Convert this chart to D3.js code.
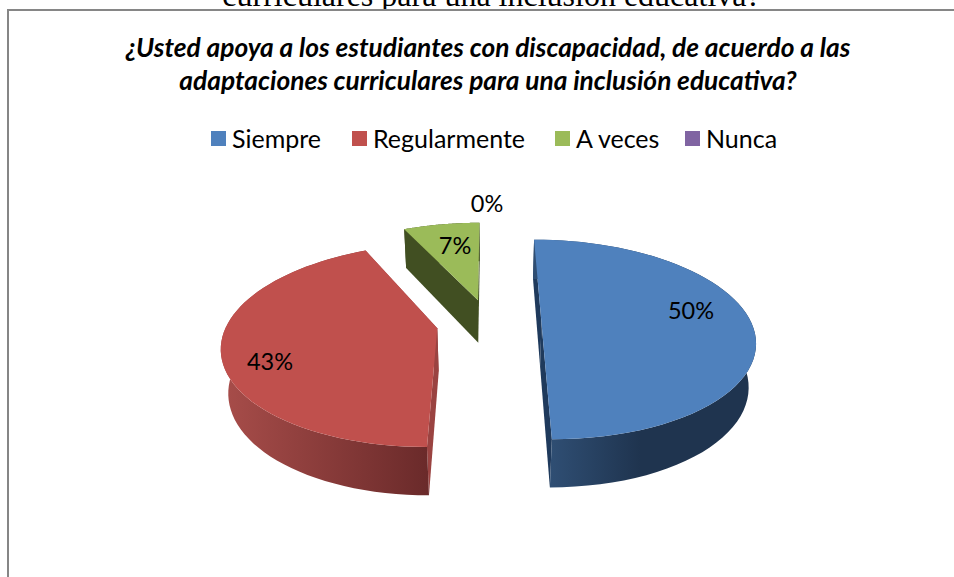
<!DOCTYPE html>
<html>
<head>
<meta charset="utf-8">
<script src="https://d3js.org/d3.v7.min.js"></script>
<style>
  html, body { margin: 0; padding: 0; background: #fff; overflow: hidden; }
  text { font-family: Lato, "Open Sans", sans-serif; fill: #000; }
</style>
</head>
<body>
<svg width="954" height="577"></svg>
<script>
var categories = ["Siempre", "Regularmente", "A veces", "Nunca"];
var values     = [50, 43, 7, 0];
var labels     = ["50%", "43%", "7%", "0%"];
var colors     = ["#4f81bd", "#c0504d", "#9bbb59", "#8064a2"];
var titleLines = ["¿Usted apoya a los estudiantes con discapacidad, de acuerdo a las",
                  "adaptaciones curriculares para una inclusión educativa?"];

var svg = d3.select("svg");

// perspective model fitted to the picture: the pie lies in a plane (u, v),
// v going away from the viewer, h going down through the thickness
var cx = 489, cy = 323, a = 210, b = 97.1,
    k = 0.165, m = 0.0276, depth = 44.7, explode = 0.25;

var x = d3.scaleLinear().domain([-1, 1]).range([cx - a, cx + a]),
    y = d3.scaleLinear().domain([-1, 1]).range([cy + b, cy - b]);

function project(u, v, h) {
  var w = 1 + k * v + m * h;
  return [x(u / w), y((v - h * depth / b) / w)];
}

var line = d3.line();

var pie = d3.pie().sort(null).value(function(d) { return d; });
var slices = pie(values);

// text above the chart, cut by the top of the picture
svg.append("text")
   .attr("x", 491.5).attr("y", 6)
   .attr("text-anchor", "middle")
   .style("font-family", "'Liberation Serif', serif")
   .style("font-size", "32px")
   .text("curriculares para una inclusión educativa?");

svg.append("rect")
   .attr("x", 8).attr("y", 10)
   .attr("width", 1000).attr("height", 700)
   .attr("fill", "#fff")
   .attr("stroke", "#868686")
   .attr("stroke-width", 2);

svg.selectAll(".title")
   .data(titleLines)
   .enter().append("text")
   .attr("class", "title")
   .attr("x", 488)
   .attr("y", function(d, i) { return 57 + i * 33; })
   .attr("text-anchor", "middle")
   .style("font-size", "26.3px")
   .style("font-weight", "bold")
   .style("font-style", "italic")
   .text(function(d) { return d; });

// legend
var legendX = [211, 352, 555, 685];
var legend = svg.selectAll(".legend")
   .data(categories)
   .enter().append("g")
   .attr("class", "legend")
   .attr("transform", function(d, i) { return "translate(" + legendX[i] + ",131)"; });

legend.append("rect")
   .attr("width", 15).attr("height", 15)
   .attr("fill", function(d, i) { return colors[i]; });

legend.append("text")
   .attr("x", 21).attr("y", 17)
   .style("font-size", "25px")
   .text(function(d) { return d; });

// rim shading, left to right on the picture
var defs = svg.append("defs");
var rimGradients = [
  {x1: 551, x2: 640, from: "#2f4e73", to: "#1f344f"},
  {x1: 228, x2: 429, from: "#a64c49", to: "#6a2a2a"},
  {x1: 400, x2: 480, from: "#414f22", to: "#414f22"}
];
rimGradients.forEach(function(g, i) {
  var grad = defs.append("linearGradient")
     .attr("id", "rim" + i)
     .attr("gradientUnits", "userSpaceOnUse")
     .attr("x1", g.x1).attr("x2", g.x2)
     .attr("y1", 0).attr("y2", 0);
  grad.append("stop").attr("offset", 0).attr("stop-color", g.from);
  grad.append("stop").attr("offset", 1).attr("stop-color", g.to);
});
var cutColors = ["#1f3a5c", "#9a4341", "#414f22"];

// back slices first
var order = slices.filter(function(d) { return d.value > 0; })
                  .sort(function(p, q) { return q.index - p.index; });

order.forEach(function(d) {
  var mid = (d.startAngle + d.endAngle) / 2,
      u0 = explode * Math.sin(mid),
      v0 = explode * Math.cos(mid);

  var arc = d3.range(0, 61).map(function(i) {
    var t = d.startAngle + (d.endAngle - d.startAngle) * i / 60;
    return [u0 + Math.sin(t), v0 + Math.cos(t)];
  });
  var first = arc[0], last = arc[arc.length - 1];

  function top(p)    { return project(p[0], p[1], 0); }
  function bottom(p) { return project(p[0], p[1], 1); }

  var g = svg.append("g");

  [first, last].forEach(function(p) {
    g.append("path")
     .attr("d", line([top([u0, v0]), top(p), bottom(p), bottom([u0, v0])]) + "Z")
     .attr("fill", cutColors[d.index]);
  });

  g.append("path")
   .attr("d", line(arc.map(top).concat(arc.slice().reverse().map(bottom))) + "Z")
   .attr("fill", "url(#rim" + d.index + ")");

  g.append("path")
   .attr("d", line([top([u0, v0])].concat(arc.map(top))) + "Z")
   .attr("fill", colors[d.index]);
});

// value labels
var labelX = [691, 270, 455, 487],
    labelY = [319, 370, 254, 212];

svg.selectAll(".value")
   .data(labels)
   .enter().append("text")
   .attr("class", "value")
   .attr("x", function(d, i) { return labelX[i]; })
   .attr("y", function(d, i) { return labelY[i]; })
   .attr("text-anchor", "middle")
   .style("font-size", "23.5px")
   .text(function(d) { return d; });
</script>
</body>
</html>
